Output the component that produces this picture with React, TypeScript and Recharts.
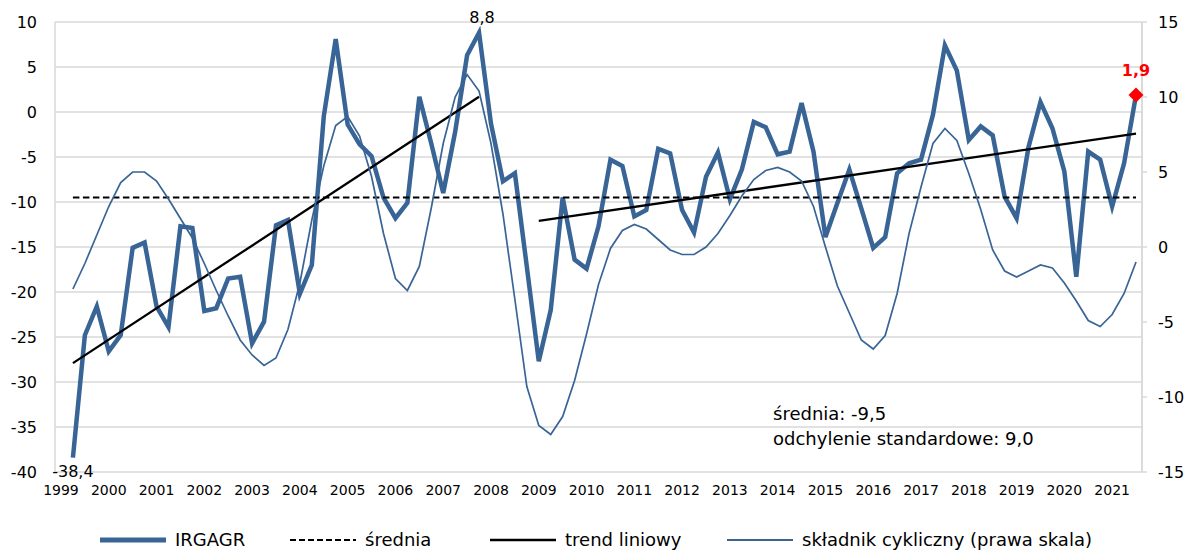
import { LineChart, Line, XAxis, YAxis, CartesianGrid, Legend } from "recharts";

// kwartały 1999Q1 - 2021Q3, pierwszy kwartał bez danych
const years = [
  "1999", "2000", "2001", "2002", "2003", "2004", "2005", "2006", "2007", "2008", "2009", "2010",
  "2011", "2012", "2013", "2014", "2015", "2016", "2017", "2018", "2019", "2020", "2021",
];

const irgagr = [
  null, -38.4, -24.8, -21.6,
  -26.6, -24.8, -15.1, -14.5,
  -21.6, -23.9, -12.7, -12.9,
  -22.1, -21.8, -18.5, -18.3,
  -25.7, -23.3, -12.6, -12.0,
  -20.2, -17.0, -0.5, 8.1,
  -1.4, -3.6, -4.9, -9.5,
  -11.8, -10.1, 1.7, -3.5,
  -9.0, -2.2, 6.3, 8.8,
  -1.3, -7.7, -6.8, -17.2,
  -27.7, -22.0, -9.5, -16.4,
  -17.4, -12.7, -5.3, -6.0,
  -11.6, -10.9, -4.1, -4.6,
  -10.9, -13.4, -7.2, -4.5,
  -9.7, -6.4, -1.1, -1.7,
  -4.7, -4.4, 1.0, -4.4,
  -13.9, -10.1, -6.4, -10.7,
  -15.1, -13.9, -6.8, -5.7,
  -5.3, -0.3, 7.4, 4.6,
  -3.1, -1.6, -2.6, -9.4,
  -11.8, -3.9, 1.1, -1.8,
  -6.6, -18.3, -4.4, -5.3,
  -10.5, -5.7, 1.9,
];

const cyclical = [
  null, -2.8, -1.1, 0.8,
  2.7, 4.3, 5.0, 5.0,
  4.4, 3.2, 1.9, 0.6,
  -1.1, -2.9, -4.6, -6.2,
  -7.2, -7.9, -7.4, -5.5,
  -2.4, 1.8, 5.4, 8.1,
  8.7, 7.4, 4.7, 0.9,
  -2.1, -2.9, -1.3, 2.6,
  6.9, 10.0, 11.5, 10.4,
  6.9, 2.2, -3.5, -9.3,
  -11.9, -12.5, -11.3, -8.9,
  -5.8, -2.5, -0.1, 1.1,
  1.5, 1.2, 0.5, -0.2,
  -0.5, -0.5, 0.0, 0.9,
  2.1, 3.4, 4.5, 5.1,
  5.3, 5.0, 4.4, 2.7,
  0.0, -2.6, -4.4, -6.2,
  -6.8, -5.9, -3.1, 0.9,
  4.0, 6.9, 7.9, 7.1,
  4.9, 2.5, -0.2, -1.6,
  -2.0, -1.6, -1.2, -1.4,
  -2.4, -3.6, -4.9, -5.3,
  -4.5, -3.1, -1.0,
];

const meanValue = -9.5;
const meanAt = [1, 90];
const trendEarlyAt = [1, 35];
const trendEarly = [-27.9, 1.7];
const trendLateAt = [40, 90];
const trendLate = [-12.1, -2.4];

const leftTicks = [-40, -35, -30, -25, -20, -15, -10, -5, 0, 5, 10];
const rightTicks = [-15, -10, -5, 0, 5, 10, 15];

const BLUE = "#396496";
const GRID = "#d9d9d9";
const FONT = "'DejaVu Sans', Verdana, sans-serif";

const rows = irgagr.map((v, i) => ({
  t: i,
  irgagr: v,
  cyc: cyclical[i],
  mean: meanAt.includes(i) ? meanValue : null,
  trendA: trendEarlyAt.includes(i) ? trendEarly[trendEarlyAt.indexOf(i)] : null,
  trendB: trendLateAt.includes(i) ? trendLate[trendLateAt.indexOf(i)] : null,
}));

const labelTicks = years.map((_, k) => k * 4);
const gridTicks = years.map((_, k) => k * 4 - 0.5).concat(irgagr.length - 0.5);

const fmt = (v: number) => v.toFixed(1).replace(".", ",");

function PointLabel(props: any) {
  const { x, y, index, value } = props;
  if (index === 1)
    return (
      <text x={x} y={y + 14} textAnchor="middle" dominantBaseline="central" fontSize={16} fill="#000">
        {fmt(value)}
      </text>
    );
  if (index === 35)
    return (
      <text x={x + 3} y={y - 15} textAnchor="middle" dominantBaseline="central" fontSize={16} fill="#000">
        {fmt(value)}
      </text>
    );
  if (index === irgagr.length - 1)
    return (
      <text x={x} y={y - 24} textAnchor="middle" dominantBaseline="central" fontSize={16} fontWeight="bold" fill="#ff0000">
        {fmt(value)}
      </text>
    );
  return null;
}

function LastDot(props: any) {
  const { cx, cy, index } = props;
  if (index !== irgagr.length - 1 || cy == null) return <g key={index} />;
  const r = 7.5;
  return (
    <path
      key={index}
      d={`M${cx},${cy - r} L${cx + r},${cy} L${cx},${cy + r} L${cx - r},${cy} Z`}
      fill="#ff0000"
    />
  );
}

const legendItems = [
  { name: "IRGAGR", color: BLUE, width: 5, dash: undefined, left: 100 },
  { name: "średnia", color: "#000", width: 2.2, dash: "6 3", left: 290 },
  { name: "trend liniowy", color: "#000", width: 2.5, dash: undefined, left: 490 },
  { name: "składnik cykliczny (prawa skala)", color: BLUE, width: 2, dash: undefined, left: 727 },
];

function LegendBox() {
  return (
    <div style={{ position: "relative", width: 1188, height: 40, fontSize: 18, fontFamily: FONT, color: "#000" }}>
      {legendItems.map((it) => (
        <div
          key={it.name}
          style={{ position: "absolute", left: it.left, top: 21, height: 18, lineHeight: "18px", display: "flex", alignItems: "center", whiteSpace: "nowrap" }}
        >
          <svg width={66} height={18} style={{ marginRight: 9 }}>
            <line x1={0} y1={9} x2={66} y2={9} stroke={it.color} strokeWidth={it.width} strokeDasharray={it.dash} />
          </svg>
          <span>{it.name}</span>
        </div>
      ))}
    </div>
  );
}

export default function App() {
  return (
    <div style={{ position: "absolute", left: 0, top: 0, width: 1188, height: 550, fontFamily: FONT, background: "#fff" }}>
      <LineChart width={1188} height={550} data={rows} margin={{ top: 22, right: 0, left: 0, bottom: 0 }}>
        <CartesianGrid xAxisId="grid" yAxisId="left" stroke={GRID} strokeWidth={1.5} />
        <XAxis
          xAxisId="grid"
          dataKey="t"
          type="number"
          domain={[-0.5, irgagr.length - 0.5]}
          ticks={gridTicks}
          tick={false}
          axisLine={false}
          tickLine={false}
          height={0}
        />
        <XAxis
          xAxisId="lab"
          dataKey="t"
          type="number"
          domain={[-0.5, irgagr.length - 0.5]}
          ticks={labelTicks}
          interval={0}
          tickFormatter={(v: number) => years[Math.round(v / 4)]}
          tick={{ fontSize: 14, fill: "#000" }}
          axisLine={false}
          tickLine={false}
          tickSize={0}
          tickMargin={13}
          height={38}
        />
        <YAxis
          yAxisId="left"
          domain={[-40, 10]}
          ticks={leftTicks}
          interval={0}
          tick={{ fontSize: 16, fill: "#000" }}
          axisLine={false}
          tickLine={false}
          tickSize={0}
          tickMargin={18}
          width={55}
        />
        <YAxis
          yAxisId="right"
          orientation="right"
          domain={[-15, 15]}
          ticks={rightTicks}
          interval={0}
          tick={{ fontSize: 16, fill: "#000" }}
          axisLine={{ stroke: GRID, strokeWidth: 1.5 }}
          tickLine={{ stroke: GRID, strokeWidth: 1.5 }}
          tickSize={5}
          tickMargin={11}
          width={46}
        />
        <Legend verticalAlign="bottom" content={() => <LegendBox />} />
        <Line
          xAxisId="lab"
          yAxisId="left"
          dataKey="irgagr"
          name="IRGAGR"
          type="linear"
          stroke={BLUE}
          strokeWidth={4.5}
          dot={LastDot}
          activeDot={false}
          label={PointLabel}
          isAnimationActive={false}
        />
        <Line
          xAxisId="lab"
          yAxisId="left"
          dataKey="mean"
          name="średnia"
          type="linear"
          stroke="#000"
          strokeWidth={2.2}
          strokeDasharray="6.5 3.5"
          dot={false}
          activeDot={false}
          connectNulls
          isAnimationActive={false}
        />
        <Line
          xAxisId="lab"
          yAxisId="left"
          dataKey="trendA"
          name="trend liniowy"
          type="linear"
          stroke="#000"
          strokeWidth={2.3}
          dot={false}
          activeDot={false}
          connectNulls
          isAnimationActive={false}
        />
        <Line
          xAxisId="lab"
          yAxisId="left"
          dataKey="trendB"
          name="trend liniowy"
          type="linear"
          stroke="#000"
          strokeWidth={2.3}
          dot={false}
          activeDot={false}
          connectNulls
          isAnimationActive={false}
        />
        <Line
          xAxisId="lab"
          yAxisId="right"
          dataKey="cyc"
          name="składnik cykliczny (prawa skala)"
          type="linear"
          stroke={BLUE}
          strokeWidth={1.7}
          dot={false}
          activeDot={false}
          isAnimationActive={false}
        />
      </LineChart>
      <div style={{ position: "absolute", left: 773, top: 402, fontSize: 18, lineHeight: "24.5px", color: "#000", whiteSpace: "nowrap" }}>
        <div>średnia: -9,5</div>
        <div>odchylenie standardowe: 9,0</div>
      </div>
    </div>
  );
}
